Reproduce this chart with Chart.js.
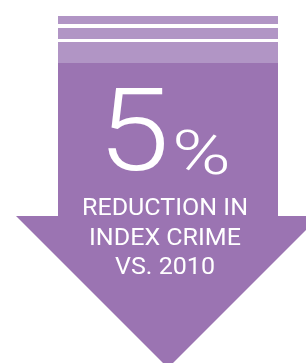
<!DOCTYPE html>
<html>
<head>
<meta charset="utf-8">
<script src="https://cdn.jsdelivr.net/npm/chart.js@4"></script>
<style>
  html, body { margin: 0; padding: 0; background: #fff; }
  #wrap { width: 306px; height: 363px; }
</style>
</head>
<body>
<div id="wrap"><canvas id="arrowChart" width="306" height="363"></canvas></div>
<script>
// ===========================
// DATA
// ===========================
const headlineValue = [5];
const headlineUnit = ['%'];
const captionLines = ['REDUCTION IN', 'INDEX CRIME', 'VS. 2010'];

// colours
const lightPurple = '#b195c5';
const bodyPurple = '#9b74b2';

// draw text so its ink fills a box (left/right/top/bottom in px)
function fitInk(ctx, text, weight, left, right, top, bottom) {
  ctx.font = `${weight} 100px Roboto, "Liberation Sans", sans-serif`;
  const m = ctx.measureText(text);
  const inkW = m.actualBoundingBoxLeft + m.actualBoundingBoxRight;
  const inkH = m.actualBoundingBoxAscent + m.actualBoundingBoxDescent;
  const sy = (bottom - top) / inkH;
  const sx = (right - left) / inkW;
  const size = 100 * sy;
  ctx.save();
  ctx.font = `${weight} ${size}px Roboto, "Liberation Sans", sans-serif`;
  const baseline = top + m.actualBoundingBoxAscent * sy;
  ctx.translate(left + m.actualBoundingBoxLeft * sx, baseline);
  ctx.scale(sx / sy, 1);
  ctx.textAlign = 'left';
  ctx.textBaseline = 'alphabetic';
  ctx.fillText(text, 0, 0);
  ctx.restore();
  return { size, hscale: sx / sy };
}

// ===========================
// ARROW + TEXT PLUGIN
// drawn through the (hidden) pixel-scaled axes
// ===========================
const arrowPlugin = {
  id: 'arrowPlugin',
  beforeDatasetsDraw(chart) {
    const { ctx, scales: { x, y } } = chart;
    const px = v => x.getPixelForValue(v);
    const py = v => y.getPixelForValue(v);

    ctx.save();
    // top stripes
    ctx.fillStyle = lightPurple;
    ctx.fillRect(px(58), py(16), px(278) - px(58), py(24) - py(16));
    ctx.fillRect(px(58), py(28), px(278) - px(58), py(39) - py(28));
    ctx.fillRect(px(58), py(42), px(278) - px(58), py(63) - py(42));

    // arrow body
    ctx.fillStyle = bodyPurple;
    ctx.beginPath();
    ctx.moveTo(px(58), py(63));
    ctx.lineTo(px(278), py(63));
    ctx.lineTo(px(278), py(216));
    ctx.lineTo(px(320), py(216));
    ctx.lineTo(px(168), py(368));
    ctx.lineTo(px(16), py(216));
    ctx.lineTo(px(58), py(216));
    ctx.closePath();
    ctx.fill();

    // headline number + unit
    ctx.fillStyle = '#ffffff';
    fitInk(ctx, String(headlineValue[0]), 300, px(108), px(165), py(87), py(171));
    fitInk(ctx, headlineUnit[0], 300, px(176), px(227), py(130), py(175));

    // caption: first line fitted, others share its size and squeeze
    const fit = fitInk(ctx, captionLines[0], 400, px(84), px(246), py(197), py(215));
    const baselines = [215, 245, 274];
    ctx.font = `400 ${fit.size}px Roboto, "Liberation Sans", sans-serif`;
    ctx.textAlign = 'center';
    ctx.textBaseline = 'alphabetic';
    captionLines.slice(1).forEach((line, i) => {
      ctx.save();
      ctx.translate(px(165), py(baselines[i + 1]));
      ctx.scale(fit.hscale, 1);
      ctx.fillText(line, 0, 0);
      ctx.restore();
    });
    ctx.restore();
  }
};

new Chart(document.getElementById('arrowChart').getContext('2d'), {
  type: 'scatter',
  data: { datasets: [{ data: [], pointRadius: 0 }] },
  options: {
    responsive: false,
    animation: false,
    layout: { padding: 0 },
    scales: {
      x: { type: 'linear', min: 0, max: 306, display: false },
      y: { type: 'linear', min: 0, max: 363, reverse: true, display: false }
    },
    plugins: { legend: { display: false }, tooltip: { enabled: false } }
  },
  plugins: [arrowPlugin]
});
</script>
</body>
</html>
